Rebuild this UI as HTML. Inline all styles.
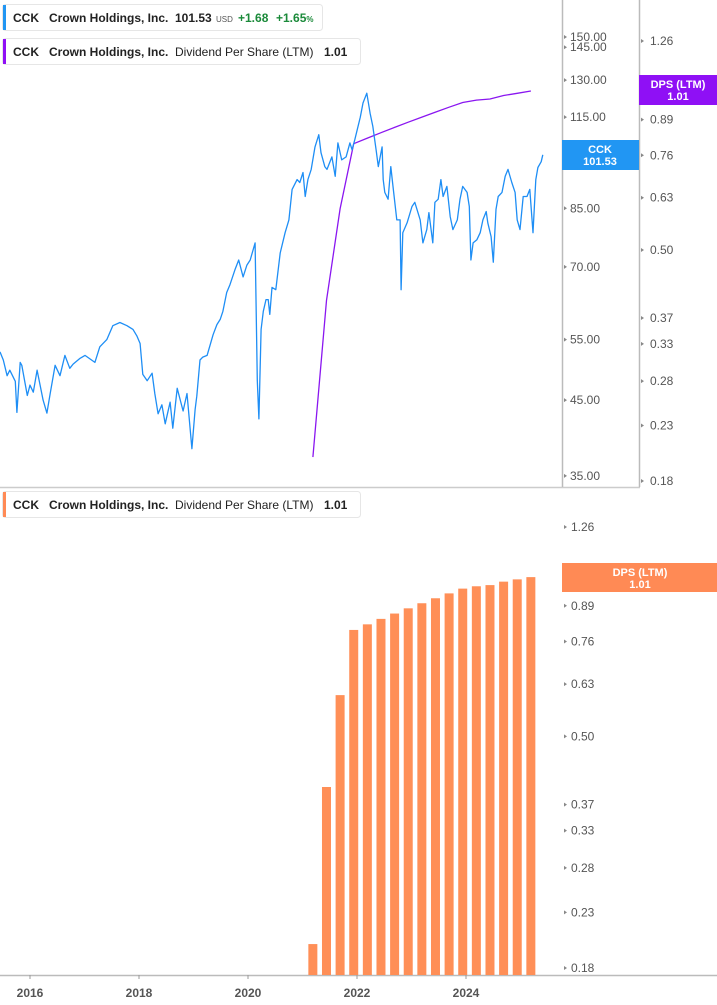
<!DOCTYPE html>
<html><head><meta charset="utf-8"><style>
body{margin:0;background:#fff;font-family:"Liberation Sans",sans-serif}
svg{display:block}
.t{font-family:"Liberation Sans",sans-serif;font-size:12px;fill:#555}
.lg{font-family:"Liberation Sans",sans-serif;font-size:12px;font-weight:bold;fill:#222}
</style></head><body>
<svg id="c" width="717" height="1005" xmlns="http://www.w3.org/2000/svg">
<g id="frame">
<line x1="0" y1="487.5" x2="640" y2="487.5" stroke="#ccc" stroke-width="1.5"/>
<line x1="562.5" y1="0" x2="562.5" y2="487" stroke="#bbb" stroke-width="1.5"/>
<line x1="639.5" y1="0" x2="639.5" y2="487" stroke="#bbb" stroke-width="1.5"/>
<line x1="0" y1="975.5" x2="717" y2="975.5" stroke="#bbb" stroke-width="1.5"/>
</g>
<g id="priceAxis"></g>
<g id="dpsAxisTop"></g>
<g id="dpsAxisBottom"></g>
<g id="xAxis"></g>
<g id="bars"></g>
<path id="dpsLine" fill="none" stroke="#8a16f0" stroke-width="1.3"/>
<path id="priceLine" fill="none" stroke="#1e8ef5" stroke-width="1.3" stroke-linejoin="round"/>

<g>
<rect x="562" y="140" width="77" height="30" fill="#2196f3"/>
<text x="600" y="153" text-anchor="middle" font-size="11" font-weight="bold" fill="#fff" font-family="Liberation Sans">CCK</text>
<text x="600" y="165" text-anchor="middle" font-size="11" font-weight="bold" fill="#fff" font-family="Liberation Sans">101.53</text>
</g>
<g>
<rect x="639" y="75" width="78" height="30" fill="#8f10f5"/>
<text x="678" y="88" text-anchor="middle" font-size="11" font-weight="bold" fill="#fff" font-family="Liberation Sans">DPS (LTM)</text>
<text x="678" y="100" text-anchor="middle" font-size="11" font-weight="bold" fill="#fff" font-family="Liberation Sans">1.01</text>
</g>
<g>
<rect x="562" y="563" width="155" height="29" fill="#ff8a55"/>
<text x="640" y="576" text-anchor="middle" font-size="11" font-weight="bold" fill="#fff" font-family="Liberation Sans">DPS (LTM)</text>
<text x="640" y="588" text-anchor="middle" font-size="11" font-weight="bold" fill="#fff" font-family="Liberation Sans">1.01</text>
</g>

<g>
<rect x="2.5" y="4.5" width="320" height="26" rx="3" fill="#fff" stroke="#e6e6e6"/>
<rect x="3" y="5" width="3" height="25" fill="#2196f3"/>
<text x="13" y="22" class="lg">CCK</text>
<text x="49" y="22" class="lg">Crown Holdings, Inc.</text>
<text x="175" y="22" class="lg">101.53</text>
<text x="216" y="22" font-size="8" fill="#555" font-family="Liberation Sans">USD</text>
<text x="238" y="22" class="lg" style="fill:#1b8a3a">+1.68</text>
<text x="276" y="22" class="lg" style="fill:#1b8a3a">+1.65<tspan font-size="8">%</tspan></text>
</g>
<g>
<rect x="2.5" y="38.5" width="358" height="26" rx="3" fill="#fff" stroke="#e6e6e6"/>
<rect x="3" y="39" width="3" height="25" fill="#8f10f5"/>
<text x="13" y="56" class="lg">CCK</text>
<text x="49" y="56" class="lg">Crown Holdings, Inc.</text>
<text x="175" y="56" class="lg" style="font-weight:normal">Dividend Per Share (LTM)</text>
<text x="324" y="56" class="lg">1.01</text>
</g>
<g>
<rect x="2.5" y="491.5" width="358" height="26" rx="3" fill="#fff" stroke="#e6e6e6"/>
<rect x="3" y="492" width="3" height="25" fill="#ff8a55"/>
<text x="13" y="509" class="lg">CCK</text>
<text x="49" y="509" class="lg">Crown Holdings, Inc.</text>
<text x="175" y="509" class="lg" style="font-weight:normal">Dividend Per Share (LTM)</text>
<text x="324" y="509" class="lg">1.01</text>
</g>
</svg>
<script>
const priceDates=[2015.45,2015.51,2015.58,2015.63,2015.73,2015.76,2015.82,2015.85,2015.95,2016.00,2016.06,2016.13,2016.24,2016.31,2016.37,2016.46,2016.55,2016.64,2016.73,2016.79,2016.92,2017.01,2017.19,2017.28,2017.41,2017.52,2017.65,2017.78,2017.89,2017.96,2018.02,2018.07,2018.15,2018.24,2018.29,2018.35,2018.42,2018.48,2018.57,2018.62,2018.70,2018.81,2018.88,2018.97,2019.03,2019.06,2019.12,2019.17,2019.25,2019.36,2019.43,2019.49,2019.54,2019.61,2019.67,2019.76,2019.83,2019.91,2019.98,2020.04,2020.13,2020.17,2020.20,2020.24,2020.28,2020.33,2020.37,2020.40,2020.44,2020.51,2020.59,2020.68,2020.75,2020.81,2020.90,2020.95,2021.01,2021.05,2021.10,2021.16,2021.23,2021.30,2021.34,2021.41,2021.45,2021.54,2021.60,2021.65,2021.72,2021.80,2021.87,2021.91,2021.96,2022.06,2022.11,2022.18,2022.24,2022.29,2022.35,2022.39,2022.46,2022.48,2022.51,2022.57,2022.62,2022.66,2022.73,2022.79,2022.81,2022.84,2022.92,2023.01,2023.06,2023.16,2023.21,2023.28,2023.32,2023.39,2023.43,2023.49,2023.54,2023.58,2023.65,2023.71,2023.76,2023.84,2023.89,2023.94,2024.02,2024.06,2024.09,2024.13,2024.20,2024.26,2024.31,2024.37,2024.40,2024.46,2024.50,2024.55,2024.59,2024.66,2024.72,2024.77,2024.84,2024.90,2024.94,2024.99,2025.05,2025.12,2025.17,2025.23,2025.28,2025.32,2025.38,2025.41];
const priceValues=[52.8,51.4,48.8,49.7,47.9,43.2,51,50.5,45.7,47.3,46.2,49.7,45,43.1,46,50.5,48.8,52.2,50,50.7,51.7,52.2,51,53.7,55,57.6,58.2,57.6,56.9,55.7,54.3,49,48,49.2,46,43,44.3,41.6,44.7,41,46.8,43.4,46,38.3,43.6,45.6,51.4,51.9,52.2,55.9,57.8,58.8,60.4,64.3,66,69.3,71.6,67.7,70.4,71.6,75.8,48,42.3,56.9,60.4,62.8,62.8,59.8,65.4,64.9,73.3,78.4,81.8,90.5,93.5,92.6,95.7,88.4,93.5,96.7,104.2,108.5,102.2,97.6,96.7,100.8,94.5,105.6,99.8,100.8,105.6,103.2,106.7,115,120.5,124.5,116.5,111.6,103.2,97.6,104.2,93.5,89.6,87.6,97.6,91.4,81.8,81.8,64.9,78.4,81,85.5,86.7,81.8,75.8,79.2,83.8,75.8,86.7,87.6,93.5,88.4,91.4,82.7,79.2,81.8,87.6,91.4,89.6,85.5,71.6,75.8,76.6,78.4,81.8,84.1,81,77.4,71.1,84.7,88.4,89.6,94.5,96.7,92.6,89.6,81.8,79.2,88.4,88.4,90.5,78.4,93.5,97.3,99.2,101.5];
const dpsDates=[2021.19,2021.44,2021.69,2021.94,2022.19,2022.44,2022.69,2022.94,2023.19,2023.44,2023.69,2023.94,2024.19,2024.44,2024.69,2024.94,2025.19];
const dpsValues=[0.20,0.40,0.60,0.80,0.82,0.84,0.86,0.88,0.90,0.92,0.94,0.96,0.97,0.975,0.99,1.00,1.01];
const priceTicks=[150,145,130,115,85,70,55,45,35];
const dpsTicks=[1.26,0.89,0.76,0.63,0.50,0.37,0.33,0.28,0.23,0.18];
const dpsTicksBottom=[1.26,1.00,0.89,0.76,0.63,0.50,0.37,0.33,0.28,0.23,0.18];
const yearTicks=[2016,2018,2020,2022,2024];

const NS='http://www.w3.org/2000/svg';
const X=t=>30+(t-2016)*54.5;
const YP=v=>37+(Math.log(150)-Math.log(v))*301.6;
const YD=v=>41+(Math.log(1.26)-Math.log(v))*226.1;
const YB=v=>527+(Math.log(1.26)-Math.log(v))*226.6;
function mk(tag,attrs,parent){const e=document.createElementNS(NS,tag);for(const k in attrs)e.setAttribute(k,attrs[k]);parent.appendChild(e);return e;}

const pa=document.getElementById('priceAxis');
priceTicks.forEach(v=>{const y=YP(v);
 const tk=mk('path',{d:`M564 ${y-2}L567 ${y}L564 ${y+2}Z`,fill:'#888'},pa);
 
 
 const t=mk('text',{x:570,y:y+4,class:'t'},pa);t.textContent=v.toFixed(2);
 
 });
const da=document.getElementById('dpsAxisTop');
dpsTicks.forEach(v=>{const y=YD(v);
 const tk=mk('path',{d:`M641 ${y-2}L644 ${y}L641 ${y+2}Z`,fill:'#888'},da);
 
 
 const t=mk('text',{x:650,y:y+4,class:'t'},da);t.textContent=v.toFixed(2);
 
 });
const db=document.getElementById('dpsAxisBottom');
dpsTicksBottom.forEach(v=>{const y=YB(v);
 const tk=mk('path',{d:`M564 ${y-2}L567 ${y}L564 ${y+2}Z`,fill:'#888'},db);
 
 
 const t=mk('text',{x:571,y:y+4,class:'t'},db);t.textContent=v.toFixed(2);
 
 });
const xa=document.getElementById('xAxis');
yearTicks.forEach(v=>{const x=X(v);
 const tk=mk('line',{x1:x,y1:975,x2:x,y2:979,stroke:'#999'},xa);
 
 
 const t=mk('text',{x:x,y:997,class:'t','text-anchor':'middle','font-weight':'bold',fill:'#666'},xa);t.textContent=v;
 
 });
const bg=document.getElementById('bars');
dpsDates.forEach((d,i)=>{const x=X(d),y=YB(dpsValues[i]);
 const r=mk('rect',{x:x-4.5,y:y,width:9,height:975-y,fill:'#ff8f57'},bg);
 
 });
document.getElementById('dpsLine').setAttribute('d',dpsDates.map((d,i)=>(i?'L':'M')+X(d).toFixed(1)+' '+YD(dpsValues[i]).toFixed(1)).join(''));
document.getElementById('priceLine').setAttribute('d',priceDates.map((d,i)=>(i?'L':'M')+X(d).toFixed(1)+' '+YP(priceValues[i]).toFixed(1)).join(''));
</script>
</body></html>
